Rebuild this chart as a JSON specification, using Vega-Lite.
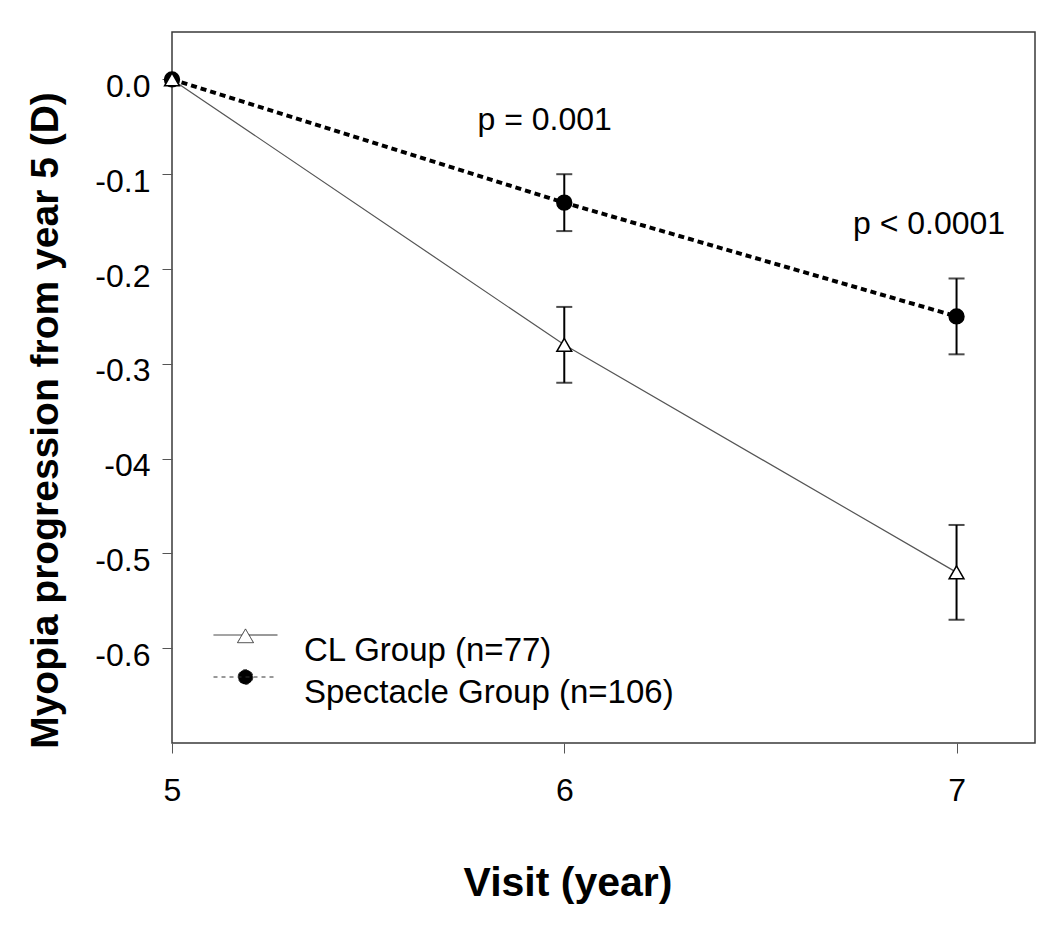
{
  "$schema": "https://vega.github.io/schema/vega-lite/v6.json",
  "width": 863,
  "height": 711,
  "autosize": "none",
  "padding": {"left": 172, "top": 32, "right": 15, "bottom": 186},
  "background": "#ffffff",
  "config": {
    "font": "Liberation Sans",
    "view": {"stroke": "#3a3a3a", "strokeWidth": 1.5},
    "axis": {"grid": false, "domain": false, "tickColor": "#555", "tickSize": 10, "tickWidth": 1, "labelFontSize": 32, "labelColor": "#000", "labelFont": "Liberation Sans", "titleFont": "Liberation Sans", "titleColor": "#000", "titleFontWeight": "bold"}
  },
  "datasets": {
    "main": [
      {"group": "Spectacle Group (n=106)", "visit": 5, "mean": 0.0, "lower": null, "upper": null},
      {"group": "Spectacle Group (n=106)", "visit": 6, "mean": -0.13, "lower": -0.16, "upper": -0.10},
      {"group": "Spectacle Group (n=106)", "visit": 7, "mean": -0.25, "lower": -0.29, "upper": -0.21},
      {"group": "CL Group (n=77)", "visit": 5, "mean": 0.0, "lower": null, "upper": null},
      {"group": "CL Group (n=77)", "visit": 6, "mean": -0.28, "lower": -0.32, "upper": -0.24},
      {"group": "CL Group (n=77)", "visit": 7, "mean": -0.52, "lower": -0.57, "upper": -0.47}
    ],
    "notes": [
      {"visit": 5.95, "value": -0.053, "label": "p = 0.001"},
      {"visit": 6.93, "value": -0.163, "label": "p < 0.0001"}
    ]
  },
  "data": {"name": "main"},
  "encoding": {
    "x": {"field": "visit", "type": "quantitative", "scale": {"domain": [5, 7.2], "nice": false, "zero": false},
      "axis": {"values": [5, 6, 7], "title": "Visit (year)", "titleFontSize": 41, "titleX": 395.5, "titleY": 152, "titleBaseline": "alphabetic", "labelPadding": 22, "labelFlush": false}},
    "y": {"field": "mean", "type": "quantitative", "scale": {"domain": [-0.7, 0.05], "nice": false, "zero": false},
      "axis": {"values": [0, -0.1, -0.2, -0.3, -0.4, -0.5, -0.6], "labelExpr": "datum.value === 0 ? '0.0' : (datum.value == -0.4 ? '-04' : '-' + format(-datum.value, '.1f'))", "title": "Myopia progression from year 5 (D)", "titleFontSize": 39, "titleX": -115, "titleY": 388, "titleBaseline": "alphabetic", "titleAngle": -90, "labelPadding": 12, "labelOffset": 7}}
  },
  "layer": [
    {
      "transform": [{"filter": "datum.group === 'CL Group (n=77)'"}],
      "mark": {"type": "line", "color": "#555", "strokeWidth": 1.2}
    },
    {
      "transform": [{"filter": "datum.group === 'Spectacle Group (n=106)'"}],
      "mark": {"type": "line", "color": "#000", "strokeWidth": 4, "strokeDash": [6, 4]}
    },
    {
      "mark": {"type": "rule", "color": "#000", "strokeWidth": 2},
      "encoding": {"y": {"field": "lower", "type": "quantitative"}, "y2": {"field": "upper"}}
    },
    {
      "mark": {"type": "tick", "orient": "horizontal", "size": 16, "thickness": 2, "color": "#000"},
      "encoding": {"y": {"field": "lower", "type": "quantitative"}}
    },
    {
      "mark": {"type": "tick", "orient": "horizontal", "size": 16, "thickness": 2, "color": "#000"},
      "encoding": {"y": {"field": "upper", "type": "quantitative"}}
    },
    {
      "mark": {"type": "point", "stroke": "#000", "strokeWidth": 1.5, "opacity": 1, "fillOpacity": 1,
        "shape": {"expr": "datum.group === 'CL Group (n=77)' ? 'triangle-up' : 'circle'"}},
      "encoding": {
        "fill": {"field": "group", "type": "nominal",
          "scale": {"domain": ["CL Group (n=77)", "Spectacle Group (n=106)"], "range": ["#ffffff", "#000000"]},
          "legend": {
            "orient": "none", "legendX": 41, "legendY": 594, "title": null, "padding": 0,
            "symbolSize": 4096, "clipHeight": 18, "labelFontSize": 33, "labelFont": "Liberation Sans", "labelColor": "#000", "labelLimit": 600,
            "labelBaseline": "top", "labelOffset": 26, "rowPadding": 0,
            "symbolType": {"expr": "datum.value === 'CL Group (n=77)' ? 'M-1,0H-0.11M0.11,0H1M0,-0.19L0.25,0.24L-0.25,0.24Z' : 'M-1,0H1M0.23,0A0.23,0.23,0,1,1,-0.23,0A0.23,0.23,0,1,1,0.23,0Z'"},
            "symbolDash": {"expr": "datum.value === 'CL Group (n=77)' ? [1, 0] : [4, 4]"},
            "symbolStrokeColor": "#333333",
            "symbolStrokeWidth": 1,
            "symbolOpacity": 1
          }},
        "size": {"value": 220}
      }
    },
    {
      "data": {"name": "notes"},
      "mark": {"type": "text", "fontSize": 32, "align": "center", "baseline": "alphabetic", "color": "#000", "font": "Liberation Sans"},
      "encoding": {
        "x": {"field": "visit", "type": "quantitative"},
        "y": {"field": "value", "type": "quantitative"},
        "text": {"field": "label"}
      }
    }
  ]
}
